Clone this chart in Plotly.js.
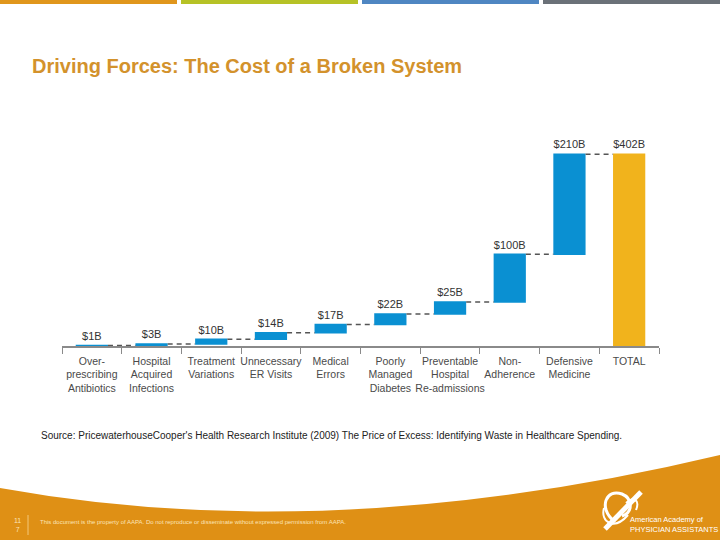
<!DOCTYPE html>
<html>
<head>
<meta charset="utf-8">
<script src="https://cdn.plot.ly/plotly-3.0.1.min.js"></script>
<style>html,body{margin:0;padding:0;background:#fff;}#chart{width:720px;height:540px;}</style>
</head>
<body>
<div id="chart"></div>
<script>
// ---- data ----
const categories = [
  "Over-<br>prescribing<br>Antibiotics",
  "Hospital<br>Acquired<br>Infections",
  "Treatment<br>Variations",
  "Unnecessary<br>ER Visits",
  "Medical<br>Errors",
  "Poorly<br>Managed<br>Diabetes",
  "Preventable<br>Hospital<br>Re-admissions",
  "Non-<br>Adherence",
  "Defensive<br>Medicine",
  "TOTAL"
];
const values = [1, 3, 10, 14, 17, 22, 25, 100, 210, 402];
const measures = ["relative","relative","relative","relative","relative","relative","relative","relative","relative","total"];
const valueLabels = values.map(v => "$" + v + "B");

const titleText = "Driving Forces: The Cost of a Broken System";
const sourceText = "Source: PricewaterhouseCooper's Health Research Institute (2009) The Price of Excess: Identifying Waste in Healthcare Spending.";
const disclaimerText = "This document is the property of AAPA. Do not reproduce or disseminate without expressed permission from AAPA.";
const pageNumber = "11<br>7";
const logoText = "American Academy of<br>PHYSICIAN ASSISTANTS";

// ---- helpers (pixel -> paper, margins are zero) ----
const W = 720, H = 540;
const px = x => x / W;
const py = y => 1 - y / H;
const FONT = "Arial, Liberation Sans, sans-serif";

const trace = {
  type: "waterfall",
  x: categories,
  y: values,
  measure: measures,
  text: valueLabels,
  textinfo: "text",
  textposition: "outside",
  cliponaxis: false,
  textfont: {family: FONT, size: 11, color: "#333333"},
  increasing: {marker: {color: "#0a90d2"}},
  totals: {marker: {color: "#f1b31c"}},
  connector: {mode: "between", line: {color: "#555555", width: 1.5, dash: "5px,4px"}},
  hoverinfo: "skip"
};

const footerPath = "M " + px(0) + " " + py(488) +
  " Q " + px(330) + " " + py(548) + " " + px(720) + " " + py(455) +
  " L " + px(720) + " " + py(540) + " L " + px(0) + " " + py(540) + " Z";

function path(pts) {
  return pts.map(p => typeof p === "string" ? p : (px(p[0]) + " " + py(p[1]))).join(" ");
}

const shapes = [
  // top colour strips
  {type:"rect", xref:"paper", yref:"paper", x0:px(0), x1:px(177), y0:py(0), y1:py(4), fillcolor:"#e0961c", line:{width:0}},
  {type:"rect", xref:"paper", yref:"paper", x0:px(181), x1:px(358), y0:py(0), y1:py(4), fillcolor:"#b6c226", line:{width:0}},
  {type:"rect", xref:"paper", yref:"paper", x0:px(362), x1:px(539), y0:py(0), y1:py(4), fillcolor:"#4f86c2", line:{width:0}},
  {type:"rect", xref:"paper", yref:"paper", x0:px(543), x1:px(720), y0:py(0), y1:py(4), fillcolor:"#6b7178", line:{width:0}},
  // footer band
  {type:"path", xref:"paper", yref:"paper", path: footerPath, fillcolor:"#df9015", line:{width:0}, layer:"above"},
  // separator near page number
  {type:"line", xref:"paper", yref:"paper", x0:px(28), x1:px(28), y0:py(515), y1:py(535), line:{color:"#f3c77a", width:1}},
  // logo approximation
  {type:"line", xref:"paper", yref:"paper", x0:px(605), y0:py(529), x1:px(641), y1:py(492), line:{color:"#ffffff", width:5}},
  {type:"path", xref:"paper", yref:"paper",
   path: path(["M", [614,521], "C", [598,508], [606,488], [622,494], "C", [632,498], [634,512], [622,516]]),
   line:{color:"#ffffff", width:3}},
  {type:"path", xref:"paper", yref:"paper",
   path: path(["M", [604,508], "C", [600,522], [614,531], [628,515]]),
   line:{color:"#ffffff", width:2}},
  {type:"path", xref:"paper", yref:"paper",
   path: path(["M", [626,503], "C", [634,496], [640,500], [636,510]]),
   line:{color:"#ffffff", width:2}}
];

const annotations = [
  {xref:"paper", yref:"paper", x:px(30), y:py(66), xanchor:"left", yanchor:"middle", showarrow:false,
   text:"<b>" + titleText + "</b>", font:{family:FONT, size:20, color:"#d3922c"}},
  {xref:"paper", yref:"paper", x:px(39), y:py(435), xanchor:"left", yanchor:"middle", showarrow:false,
   text: sourceText, font:{family:FONT, size:10, color:"#222222"}},
  {xref:"paper", yref:"paper", x:px(17), y:py(525), xanchor:"center", yanchor:"middle", showarrow:false,
   text: pageNumber, font:{family:FONT, size:7, color:"#fbe3b8"}},
  {xref:"paper", yref:"paper", x:px(38), y:py(522), xanchor:"left", yanchor:"middle", showarrow:false,
   text: disclaimerText, font:{family:FONT, size:6, color:"#fbe3b8"}},
  {xref:"paper", yref:"paper", x:px(628), y:py(524), xanchor:"left", yanchor:"middle", showarrow:false, align:"left",
   text: logoText, font:{family:FONT, size:7.5, color:"#ffffff"}}
];

const layout = {
  width: W, height: H,
  margin: {l:0, r:0, t:0, b:0},
  paper_bgcolor: "#ffffff",
  plot_bgcolor: "#ffffff",
  showlegend: false,
  waterfallgap: 0.46,
  xaxis: {
    domain: [px(62), px(659)],
    type: "category",
    automargin: false,
    tickangle: 0,
    showline: true, linecolor: "#8a8a8a", linewidth: 2,
    ticks: "outside", tickson: "boundaries", ticklen: 6, tickcolor: "#8a8a8a", tickwidth: 1,
    ticklabelstandoff: 4,
    showgrid: false, zeroline: false,
    tickfont: {family: FONT, size: 10.5, color: "#4a4a4a"},
    fixedrange: true
  },
  yaxis: {
    domain: [py(346), py(136)],
    range: [0, 440],
    visible: false,
    automargin: false,
    fixedrange: true
  },
  shapes: shapes,
  annotations: annotations
};

Plotly.newPlot("chart", [trace], layout, {staticPlot: true, displayModeBar: false});
</script>
</body>
</html>
